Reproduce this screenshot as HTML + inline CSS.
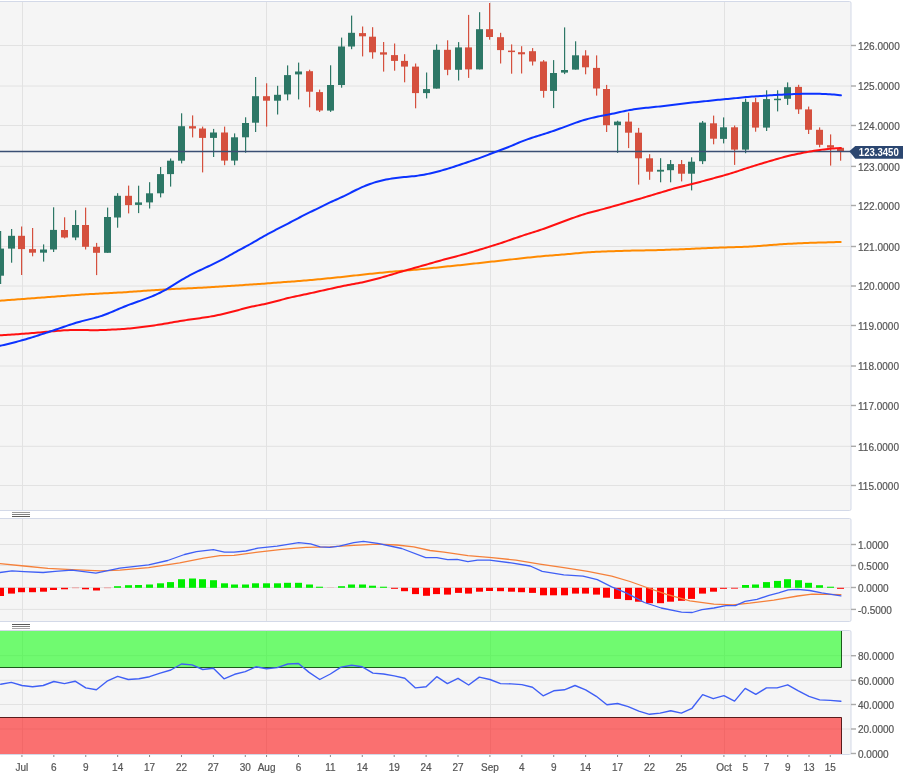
<!DOCTYPE html><html><head><meta charset="utf-8"><style>html,body{margin:0;padding:0;background:#fff;}svg{display:block;}text{font-family:"Liberation Sans",sans-serif;}svg{will-change:transform;}</style></head><body>
<svg width="918" height="782" viewBox="0 0 918 782">
<rect x="0" y="0" width="918" height="782" fill="#fff"/>
<rect x="-2" y="1.5" width="853" height="509.0" rx="1.5" fill="#f5f5f5" stroke="#d3d9e8" stroke-width="1"/>
<rect x="-2" y="518.5" width="853" height="103.0" rx="1.5" fill="#f5f5f5" stroke="#d3d9e8" stroke-width="1"/>
<rect x="-2" y="630.5" width="853" height="124.0" rx="1.5" fill="#f5f5f5" stroke="#d3d9e8" stroke-width="1"/>
<line x1="0" y1="45.5" x2="851" y2="45.5" stroke="#e2e2e2" stroke-width="1"/>
<line x1="0" y1="86" x2="851" y2="86" stroke="#e2e2e2" stroke-width="1"/>
<line x1="0" y1="125.5" x2="851" y2="125.5" stroke="#e2e2e2" stroke-width="1"/>
<line x1="0" y1="166.4" x2="851" y2="166.4" stroke="#e2e2e2" stroke-width="1"/>
<line x1="0" y1="205.5" x2="851" y2="205.5" stroke="#e2e2e2" stroke-width="1"/>
<line x1="0" y1="246.5" x2="851" y2="246.5" stroke="#e2e2e2" stroke-width="1"/>
<line x1="0" y1="286" x2="851" y2="286" stroke="#e2e2e2" stroke-width="1"/>
<line x1="0" y1="325.5" x2="851" y2="325.5" stroke="#e2e2e2" stroke-width="1"/>
<line x1="0" y1="366" x2="851" y2="366" stroke="#e2e2e2" stroke-width="1"/>
<line x1="0" y1="405.5" x2="851" y2="405.5" stroke="#e2e2e2" stroke-width="1"/>
<line x1="0" y1="446.3" x2="851" y2="446.3" stroke="#e2e2e2" stroke-width="1"/>
<line x1="0" y1="485.5" x2="851" y2="485.5" stroke="#e2e2e2" stroke-width="1"/>
<line x1="22.5" y1="2" x2="22.5" y2="510" stroke="#e2e2e2" stroke-width="1"/>
<line x1="22.5" y1="519" x2="22.5" y2="621" stroke="#e2e2e2" stroke-width="1"/>
<line x1="22.5" y1="630.5" x2="22.5" y2="754" stroke="#e2e2e2" stroke-width="1"/>
<line x1="266.5" y1="2" x2="266.5" y2="510" stroke="#e2e2e2" stroke-width="1"/>
<line x1="266.5" y1="519" x2="266.5" y2="621" stroke="#e2e2e2" stroke-width="1"/>
<line x1="266.5" y1="630.5" x2="266.5" y2="754" stroke="#e2e2e2" stroke-width="1"/>
<line x1="490.5" y1="2" x2="490.5" y2="510" stroke="#e2e2e2" stroke-width="1"/>
<line x1="490.5" y1="519" x2="490.5" y2="621" stroke="#e2e2e2" stroke-width="1"/>
<line x1="490.5" y1="630.5" x2="490.5" y2="754" stroke="#e2e2e2" stroke-width="1"/>
<line x1="724.5" y1="2" x2="724.5" y2="510" stroke="#e2e2e2" stroke-width="1"/>
<line x1="724.5" y1="519" x2="724.5" y2="621" stroke="#e2e2e2" stroke-width="1"/>
<line x1="724.5" y1="630.5" x2="724.5" y2="754" stroke="#e2e2e2" stroke-width="1"/>
<line x1="0" y1="544.5" x2="851" y2="544.5" stroke="#e2e2e2" stroke-width="1"/>
<line x1="0" y1="565.5" x2="851" y2="565.5" stroke="#e2e2e2" stroke-width="1"/>
<line x1="0" y1="587.5" x2="851" y2="587.5" stroke="#e2e2e2" stroke-width="1"/>
<line x1="0" y1="609.4" x2="851" y2="609.4" stroke="#e2e2e2" stroke-width="1"/>
<line x1="0" y1="655.7" x2="851" y2="655.7" stroke="#e2e2e2" stroke-width="1"/>
<line x1="0" y1="680.3" x2="851" y2="680.3" stroke="#e2e2e2" stroke-width="1"/>
<line x1="0" y1="704.5" x2="851" y2="704.5" stroke="#e2e2e2" stroke-width="1"/>
<line x1="0" y1="729" x2="851" y2="729" stroke="#e2e2e2" stroke-width="1"/>
<line x1="12" y1="512.5" x2="30" y2="512.5" stroke="#999" stroke-width="1"/>
<line x1="12" y1="514.5" x2="30" y2="514.5" stroke="#808080" stroke-width="1"/>
<line x1="12" y1="516.5" x2="30" y2="516.5" stroke="#5a5a5a" stroke-width="1"/>
<line x1="12" y1="624.5" x2="30" y2="624.5" stroke="#5a5a5a" stroke-width="1"/>
<line x1="12" y1="626.5" x2="30" y2="626.5" stroke="#808080" stroke-width="1"/>
<line x1="12" y1="628.5" x2="30" y2="628.5" stroke="#aaa" stroke-width="1"/>
<rect x="0" y="231" width="1.2" height="53" fill="#2d7766"/>
<rect x="-3" y="248.6" width="7" height="27.1" fill="#2d7766"/>
<rect x="11" y="229" width="1.2" height="33.7" fill="#2d7766"/>
<rect x="8" y="235.8" width="7" height="12.8" fill="#2d7766"/>
<rect x="21" y="226.5" width="1.2" height="48.5" fill="#d5503e"/>
<rect x="18" y="235.8" width="7" height="13.3" fill="#d5503e"/>
<rect x="32" y="228" width="1.2" height="28.3" fill="#d5503e"/>
<rect x="29" y="249.1" width="7" height="3.6" fill="#d5503e"/>
<rect x="43" y="244.4" width="1.2" height="17.2" fill="#2d7766"/>
<rect x="40" y="249.5" width="7" height="3.2" fill="#2d7766"/>
<rect x="53" y="207.3" width="1.2" height="44.7" fill="#2d7766"/>
<rect x="50" y="229.9" width="7" height="19.6" fill="#2d7766"/>
<rect x="64" y="217.3" width="1.2" height="21.1" fill="#d5503e"/>
<rect x="61" y="230" width="7" height="7.5" fill="#d5503e"/>
<rect x="75" y="210.2" width="1.2" height="30" fill="#2d7766"/>
<rect x="72" y="225" width="7" height="12.5" fill="#2d7766"/>
<rect x="85" y="207.6" width="1.2" height="41.9" fill="#d5503e"/>
<rect x="82" y="225" width="7" height="21.8" fill="#d5503e"/>
<rect x="96" y="242.9" width="1.2" height="32.2" fill="#d5503e"/>
<rect x="93" y="246.8" width="7" height="6" fill="#d5503e"/>
<rect x="107" y="207.6" width="1.2" height="45.2" fill="#2d7766"/>
<rect x="104" y="217" width="7" height="35.8" fill="#2d7766"/>
<rect x="117" y="193.2" width="1.2" height="34.5" fill="#2d7766"/>
<rect x="114" y="195.8" width="7" height="21.7" fill="#2d7766"/>
<rect x="128" y="185.6" width="1.2" height="27.8" fill="#d5503e"/>
<rect x="125" y="195.8" width="7" height="9.3" fill="#d5503e"/>
<rect x="138" y="185.7" width="1.2" height="27.4" fill="#2d7766"/>
<rect x="135" y="202.4" width="7" height="2.5" fill="#2d7766"/>
<rect x="149" y="182.2" width="1.2" height="26.3" fill="#2d7766"/>
<rect x="146" y="193.3" width="7" height="9.1" fill="#2d7766"/>
<rect x="160" y="167" width="1.2" height="30.4" fill="#2d7766"/>
<rect x="157" y="174.1" width="7" height="19.2" fill="#2d7766"/>
<rect x="170" y="158.5" width="1.2" height="28.1" fill="#2d7766"/>
<rect x="167" y="160.7" width="7" height="13.4" fill="#2d7766"/>
<rect x="181" y="113.3" width="1.2" height="50.1" fill="#2d7766"/>
<rect x="178" y="126.2" width="7" height="34.5" fill="#2d7766"/>
<rect x="192" y="115.4" width="1.2" height="22" fill="#d5503e"/>
<rect x="189" y="126.2" width="7" height="2.3" fill="#d5503e"/>
<rect x="202" y="126.6" width="1.2" height="45.8" fill="#d5503e"/>
<rect x="199" y="128.5" width="7" height="9.4" fill="#d5503e"/>
<rect x="213" y="128.9" width="1.2" height="28.1" fill="#2d7766"/>
<rect x="210" y="132.5" width="7" height="5.4" fill="#2d7766"/>
<rect x="224" y="126.6" width="1.2" height="38.6" fill="#d5503e"/>
<rect x="221" y="132.5" width="7" height="28.1" fill="#d5503e"/>
<rect x="234" y="133.4" width="1.2" height="31.8" fill="#2d7766"/>
<rect x="231" y="137.3" width="7" height="23.3" fill="#2d7766"/>
<rect x="245" y="117.3" width="1.2" height="35.4" fill="#2d7766"/>
<rect x="242" y="123" width="7" height="14.3" fill="#2d7766"/>
<rect x="255" y="77" width="1.2" height="55" fill="#2d7766"/>
<rect x="252" y="96.2" width="7" height="26.5" fill="#2d7766"/>
<rect x="266" y="83.3" width="1.2" height="43.3" fill="#d5503e"/>
<rect x="263" y="96.2" width="7" height="4.5" fill="#d5503e"/>
<rect x="277" y="85.8" width="1.2" height="28.7" fill="#2d7766"/>
<rect x="274" y="94.8" width="7" height="5.9" fill="#2d7766"/>
<rect x="287" y="65.4" width="1.2" height="34.9" fill="#2d7766"/>
<rect x="284" y="75.1" width="7" height="19.3" fill="#2d7766"/>
<rect x="298" y="62.6" width="1.2" height="36.8" fill="#2d7766"/>
<rect x="295" y="71.5" width="7" height="2.9" fill="#2d7766"/>
<rect x="309" y="69.7" width="1.2" height="37.6" fill="#d5503e"/>
<rect x="306" y="71.2" width="7" height="20.5" fill="#d5503e"/>
<rect x="319" y="89.6" width="1.2" height="22.4" fill="#d5503e"/>
<rect x="316" y="92.1" width="7" height="18.4" fill="#d5503e"/>
<rect x="330" y="65.3" width="1.2" height="46.6" fill="#2d7766"/>
<rect x="327" y="85" width="7" height="25.6" fill="#2d7766"/>
<rect x="341" y="37.6" width="1.2" height="50.1" fill="#2d7766"/>
<rect x="338" y="46.5" width="7" height="38.5" fill="#2d7766"/>
<rect x="351" y="15.6" width="1.2" height="33.6" fill="#2d7766"/>
<rect x="348" y="32.8" width="7" height="13.7" fill="#2d7766"/>
<rect x="362" y="26.5" width="1.2" height="29.9" fill="#d5503e"/>
<rect x="359" y="33.1" width="7" height="3.2" fill="#d5503e"/>
<rect x="372" y="27.2" width="1.2" height="31.5" fill="#d5503e"/>
<rect x="369" y="36.7" width="7" height="15.6" fill="#d5503e"/>
<rect x="383" y="42" width="1.2" height="29.6" fill="#d5503e"/>
<rect x="380" y="52.3" width="7" height="2.3" fill="#d5503e"/>
<rect x="394" y="43.5" width="1.2" height="27.2" fill="#d5503e"/>
<rect x="391" y="55.1" width="7" height="5.8" fill="#d5503e"/>
<rect x="404" y="54.2" width="1.2" height="28.1" fill="#d5503e"/>
<rect x="401" y="60.9" width="7" height="5.7" fill="#d5503e"/>
<rect x="415" y="63.5" width="1.2" height="44.8" fill="#d5503e"/>
<rect x="412" y="66.6" width="7" height="26.5" fill="#d5503e"/>
<rect x="426" y="72.5" width="1.2" height="25.9" fill="#2d7766"/>
<rect x="423" y="89.1" width="7" height="4" fill="#2d7766"/>
<rect x="436" y="44.4" width="1.2" height="44.2" fill="#2d7766"/>
<rect x="433" y="49.8" width="7" height="38.8" fill="#2d7766"/>
<rect x="447" y="40.3" width="1.2" height="34.9" fill="#d5503e"/>
<rect x="444" y="49.8" width="7" height="20" fill="#d5503e"/>
<rect x="458" y="42.1" width="1.2" height="38.4" fill="#2d7766"/>
<rect x="455" y="47.4" width="7" height="22.4" fill="#2d7766"/>
<rect x="468" y="14.9" width="1.2" height="63" fill="#d5503e"/>
<rect x="465" y="47.4" width="7" height="22" fill="#d5503e"/>
<rect x="479" y="12.2" width="1.2" height="57.2" fill="#2d7766"/>
<rect x="476" y="29.2" width="7" height="40.2" fill="#2d7766"/>
<rect x="489" y="3" width="1.2" height="36.7" fill="#d5503e"/>
<rect x="486" y="29.2" width="7" height="7.8" fill="#d5503e"/>
<rect x="500" y="32.8" width="1.2" height="30.7" fill="#d5503e"/>
<rect x="497" y="37.2" width="7" height="12.9" fill="#d5503e"/>
<rect x="511" y="44.4" width="1.2" height="29.3" fill="#d5503e"/>
<rect x="508" y="50.6" width="7" height="1.5" fill="#d5503e"/>
<rect x="521" y="46.2" width="1.2" height="27.3" fill="#d5503e"/>
<rect x="518" y="52.2" width="7" height="2.1" fill="#d5503e"/>
<rect x="532" y="48.1" width="1.2" height="17.4" fill="#d5503e"/>
<rect x="529" y="51.2" width="7" height="10.3" fill="#d5503e"/>
<rect x="543" y="60.1" width="1.2" height="37.6" fill="#d5503e"/>
<rect x="540" y="61.5" width="7" height="29.4" fill="#d5503e"/>
<rect x="553" y="60.1" width="1.2" height="48" fill="#2d7766"/>
<rect x="550" y="73" width="7" height="17.9" fill="#2d7766"/>
<rect x="564" y="27.4" width="1.2" height="46.7" fill="#2d7766"/>
<rect x="561" y="70" width="7" height="2.6" fill="#2d7766"/>
<rect x="575" y="41.3" width="1.2" height="28.3" fill="#2d7766"/>
<rect x="572" y="55.3" width="7" height="14.3" fill="#2d7766"/>
<rect x="585" y="50.2" width="1.2" height="24.1" fill="#d5503e"/>
<rect x="582" y="55.5" width="7" height="11.8" fill="#d5503e"/>
<rect x="596" y="55.4" width="1.2" height="40.2" fill="#d5503e"/>
<rect x="593" y="67.9" width="7" height="20.6" fill="#d5503e"/>
<rect x="606" y="84.9" width="1.2" height="47.1" fill="#d5503e"/>
<rect x="603" y="89" width="7" height="36.2" fill="#d5503e"/>
<rect x="617" y="120.7" width="1.2" height="32.2" fill="#2d7766"/>
<rect x="614" y="121.6" width="7" height="3.6" fill="#2d7766"/>
<rect x="628" y="112.6" width="1.2" height="35.5" fill="#d5503e"/>
<rect x="625" y="121.6" width="7" height="11.1" fill="#d5503e"/>
<rect x="638" y="127.9" width="1.2" height="56.7" fill="#d5503e"/>
<rect x="635" y="132.7" width="7" height="25.6" fill="#d5503e"/>
<rect x="649" y="154.2" width="1.2" height="25.6" fill="#d5503e"/>
<rect x="646" y="158.3" width="7" height="13.4" fill="#d5503e"/>
<rect x="660" y="158.2" width="1.2" height="24.1" fill="#2d7766"/>
<rect x="657" y="169.8" width="7" height="1.8" fill="#2d7766"/>
<rect x="670" y="160" width="1.2" height="22.3" fill="#2d7766"/>
<rect x="667" y="164.1" width="7" height="6.1" fill="#2d7766"/>
<rect x="681" y="160" width="1.2" height="21.4" fill="#d5503e"/>
<rect x="678" y="164.1" width="7" height="9.6" fill="#d5503e"/>
<rect x="691" y="157.3" width="1.2" height="33.1" fill="#2d7766"/>
<rect x="688" y="161.7" width="7" height="12" fill="#2d7766"/>
<rect x="702" y="121" width="1.2" height="43.1" fill="#2d7766"/>
<rect x="699" y="122.6" width="7" height="38.6" fill="#2d7766"/>
<rect x="713" y="115.6" width="1.2" height="28.7" fill="#d5503e"/>
<rect x="710" y="123.3" width="7" height="15.4" fill="#d5503e"/>
<rect x="723" y="117.4" width="1.2" height="26" fill="#2d7766"/>
<rect x="720" y="127.3" width="7" height="11.6" fill="#2d7766"/>
<rect x="734" y="125.5" width="1.2" height="39.4" fill="#d5503e"/>
<rect x="731" y="127.3" width="7" height="22.3" fill="#d5503e"/>
<rect x="745" y="98.6" width="1.2" height="54.6" fill="#2d7766"/>
<rect x="742" y="101.9" width="7" height="47.7" fill="#2d7766"/>
<rect x="755" y="97.7" width="1.2" height="34" fill="#d5503e"/>
<rect x="752" y="102.2" width="7" height="25.4" fill="#d5503e"/>
<rect x="766" y="90.3" width="1.2" height="40.7" fill="#2d7766"/>
<rect x="763" y="99.1" width="7" height="28.5" fill="#2d7766"/>
<rect x="777" y="90.3" width="1.2" height="21.1" fill="#2d7766"/>
<rect x="774" y="98.7" width="7" height="1.5" fill="#2d7766"/>
<rect x="787" y="82.4" width="1.2" height="22.5" fill="#2d7766"/>
<rect x="784" y="87.2" width="7" height="11.6" fill="#2d7766"/>
<rect x="798" y="84.8" width="1.2" height="29.1" fill="#d5503e"/>
<rect x="795" y="86.9" width="7" height="22.5" fill="#d5503e"/>
<rect x="808" y="106.6" width="1.2" height="27.4" fill="#d5503e"/>
<rect x="805" y="109.4" width="7" height="20.4" fill="#d5503e"/>
<rect x="819" y="127.4" width="1.2" height="19.9" fill="#d5503e"/>
<rect x="816" y="129.8" width="7" height="15" fill="#d5503e"/>
<rect x="830" y="134.4" width="1.2" height="31.2" fill="#d5503e"/>
<rect x="827" y="145.2" width="7" height="2.4" fill="#d5503e"/>
<rect x="840" y="147.1" width="1.2" height="13.6" fill="#d5503e"/>
<rect x="837" y="147.8" width="7" height="3.3" fill="#d5503e"/>
<line x1="0" y1="151.5" x2="851" y2="151.5" stroke="#3a4f74" stroke-width="1.3"/>
<polyline points="0.0,300.70 2.0,300.55 4.0,300.41 6.0,300.26 8.0,300.11 10.0,299.97 12.0,299.82 14.0,299.67 16.0,299.52 18.0,299.37 20.0,299.22 22.0,299.07 24.0,298.92 26.0,298.77 28.0,298.61 30.0,298.46 32.0,298.30 34.0,298.15 36.0,297.99 38.0,297.84 40.0,297.69 42.0,297.53 44.0,297.38 46.0,297.23 48.0,297.08 50.0,296.93 52.0,296.78 54.0,296.64 56.0,296.49 58.0,296.34 60.0,296.20 62.0,296.05 64.0,295.90 66.0,295.76 68.0,295.61 70.0,295.46 72.0,295.31 74.0,295.17 76.0,295.02 78.0,294.88 80.0,294.73 82.0,294.59 84.0,294.46 86.0,294.33 88.0,294.21 90.0,294.10 92.0,293.99 94.0,293.89 96.0,293.78 98.0,293.68 100.0,293.58 102.0,293.48 104.0,293.37 106.0,293.27 108.0,293.16 110.0,293.05 112.0,292.94 114.0,292.83 116.0,292.72 118.0,292.61 120.0,292.50 122.0,292.38 124.0,292.25 126.0,292.13 128.0,292.00 130.0,291.86 132.0,291.72 134.0,291.57 136.0,291.43 138.0,291.28 140.0,291.13 142.0,290.99 144.0,290.84 146.0,290.70 148.0,290.55 150.0,290.42 152.0,290.28 154.0,290.15 156.0,290.03 158.0,289.91 160.0,289.79 162.0,289.67 164.0,289.55 166.0,289.43 168.0,289.31 170.0,289.20 172.0,289.09 174.0,288.98 176.0,288.87 178.0,288.77 180.0,288.68 182.0,288.58 184.0,288.49 186.0,288.40 188.0,288.32 190.0,288.23 192.0,288.14 194.0,288.05 196.0,287.96 198.0,287.86 200.0,287.76 202.0,287.66 204.0,287.55 206.0,287.44 208.0,287.33 210.0,287.21 212.0,287.10 214.0,286.98 216.0,286.86 218.0,286.74 220.0,286.62 222.0,286.50 224.0,286.37 226.0,286.25 228.0,286.12 230.0,285.98 232.0,285.84 234.0,285.71 236.0,285.57 238.0,285.43 240.0,285.29 242.0,285.15 244.0,285.01 246.0,284.87 248.0,284.73 250.0,284.59 252.0,284.46 254.0,284.32 256.0,284.19 258.0,284.05 260.0,283.92 262.0,283.78 264.0,283.63 266.0,283.49 268.0,283.33 270.0,283.18 272.0,283.02 274.0,282.86 276.0,282.70 278.0,282.54 280.0,282.39 282.0,282.25 284.0,282.10 286.0,281.96 288.0,281.82 290.0,281.68 292.0,281.54 294.0,281.40 296.0,281.25 298.0,281.10 300.0,280.95 302.0,280.78 304.0,280.61 306.0,280.44 308.0,280.26 310.0,280.08 312.0,279.90 314.0,279.71 316.0,279.53 318.0,279.34 320.0,279.15 322.0,278.96 324.0,278.76 326.0,278.57 328.0,278.37 330.0,278.17 332.0,277.97 334.0,277.77 336.0,277.56 338.0,277.36 340.0,277.15 342.0,276.94 344.0,276.72 346.0,276.51 348.0,276.28 350.0,276.06 352.0,275.83 354.0,275.61 356.0,275.38 358.0,275.15 360.0,274.93 362.0,274.70 364.0,274.48 366.0,274.27 368.0,274.05 370.0,273.84 372.0,273.64 374.0,273.43 376.0,273.23 378.0,273.03 380.0,272.83 382.0,272.63 384.0,272.43 386.0,272.24 388.0,272.06 390.0,271.87 392.0,271.69 394.0,271.52 396.0,271.35 398.0,271.18 400.0,271.01 402.0,270.84 404.0,270.67 406.0,270.51 408.0,270.34 410.0,270.17 412.0,270.01 414.0,269.84 416.0,269.66 418.0,269.49 420.0,269.31 422.0,269.12 424.0,268.92 426.0,268.71 428.0,268.51 430.0,268.29 432.0,268.07 434.0,267.86 436.0,267.64 438.0,267.42 440.0,267.21 442.0,266.99 444.0,266.78 446.0,266.57 448.0,266.36 450.0,266.16 452.0,265.95 454.0,265.75 456.0,265.55 458.0,265.34 460.0,265.14 462.0,264.93 464.0,264.72 466.0,264.50 468.0,264.28 470.0,264.06 472.0,263.83 474.0,263.61 476.0,263.38 478.0,263.15 480.0,262.92 482.0,262.70 484.0,262.47 486.0,262.25 488.0,262.04 490.0,261.82 492.0,261.61 494.0,261.40 496.0,261.19 498.0,260.98 500.0,260.76 502.0,260.53 504.0,260.31 506.0,260.08 508.0,259.84 510.0,259.61 512.0,259.37 514.0,259.13 516.0,258.90 518.0,258.67 520.0,258.44 522.0,258.22 524.0,258.00 526.0,257.79 528.0,257.58 530.0,257.38 532.0,257.17 534.0,256.97 536.0,256.78 538.0,256.58 540.0,256.39 542.0,256.21 544.0,256.03 546.0,255.86 548.0,255.70 550.0,255.54 552.0,255.39 554.0,255.24 556.0,255.09 558.0,254.93 560.0,254.78 562.0,254.62 564.0,254.45 566.0,254.28 568.0,254.10 570.0,253.91 572.0,253.72 574.0,253.52 576.0,253.33 578.0,253.13 580.0,252.94 582.0,252.75 584.0,252.58 586.0,252.42 588.0,252.27 590.0,252.13 592.0,252.01 594.0,251.91 596.0,251.81 598.0,251.72 600.0,251.63 602.0,251.55 604.0,251.48 606.0,251.41 608.0,251.34 610.0,251.27 612.0,251.20 614.0,251.14 616.0,251.07 618.0,251.01 620.0,250.94 622.0,250.88 624.0,250.82 626.0,250.77 628.0,250.72 630.0,250.67 632.0,250.62 634.0,250.58 636.0,250.54 638.0,250.50 640.0,250.47 642.0,250.43 644.0,250.39 646.0,250.35 648.0,250.31 650.0,250.27 652.0,250.23 654.0,250.18 656.0,250.13 658.0,250.07 660.0,250.01 662.0,249.95 664.0,249.88 666.0,249.82 668.0,249.75 670.0,249.69 672.0,249.62 674.0,249.55 676.0,249.48 678.0,249.41 680.0,249.33 682.0,249.25 684.0,249.17 686.0,249.08 688.0,248.99 690.0,248.90 692.0,248.81 694.0,248.71 696.0,248.62 698.0,248.52 700.0,248.43 702.0,248.33 704.0,248.24 706.0,248.15 708.0,248.06 710.0,247.98 712.0,247.90 714.0,247.82 716.0,247.74 718.0,247.67 720.0,247.59 722.0,247.52 724.0,247.45 726.0,247.39 728.0,247.32 730.0,247.26 732.0,247.20 734.0,247.14 736.0,247.08 738.0,247.02 740.0,246.96 742.0,246.89 744.0,246.83 746.0,246.76 748.0,246.68 750.0,246.59 752.0,246.48 754.0,246.36 756.0,246.23 758.0,246.08 760.0,245.93 762.0,245.77 764.0,245.60 766.0,245.44 768.0,245.27 770.0,245.10 772.0,244.94 774.0,244.78 776.0,244.63 778.0,244.48 780.0,244.34 782.0,244.22 784.0,244.09 786.0,243.98 788.0,243.87 790.0,243.76 792.0,243.66 794.0,243.55 796.0,243.45 798.0,243.35 800.0,243.25 802.0,243.16 804.0,243.07 806.0,242.99 808.0,242.91 810.0,242.84 812.0,242.78 814.0,242.71 816.0,242.66 818.0,242.60 820.0,242.55 822.0,242.50 824.0,242.44 826.0,242.39 828.0,242.34 830.0,242.28 832.0,242.23 834.0,242.18 836.0,242.12 838.0,242.07 840.0,242.02 840.7,242.00" fill="none" stroke="#ff8a00" stroke-width="2" stroke-linejoin="round" stroke-linecap="round"/>
<polyline points="0.0,335.30 2.0,335.17 4.0,335.04 6.0,334.91 8.0,334.79 10.0,334.66 12.0,334.53 14.0,334.40 16.0,334.26 18.0,334.13 20.0,333.99 22.0,333.84 24.0,333.69 26.0,333.54 28.0,333.38 30.0,333.22 32.0,333.06 34.0,332.89 36.0,332.72 38.0,332.56 40.0,332.39 42.0,332.22 44.0,332.04 46.0,331.87 48.0,331.69 50.0,331.51 52.0,331.33 54.0,331.15 56.0,330.97 58.0,330.80 60.0,330.64 62.0,330.50 64.0,330.37 66.0,330.26 68.0,330.17 70.0,330.11 72.0,330.06 74.0,330.02 76.0,330.00 78.0,330.00 80.0,330.00 82.0,330.02 84.0,330.04 86.0,330.08 88.0,330.11 90.0,330.15 92.0,330.17 94.0,330.18 96.0,330.17 98.0,330.14 100.0,330.10 102.0,330.04 104.0,329.96 106.0,329.88 108.0,329.78 110.0,329.69 112.0,329.59 114.0,329.49 116.0,329.38 118.0,329.27 120.0,329.16 122.0,329.03 124.0,328.90 126.0,328.75 128.0,328.58 130.0,328.41 132.0,328.21 134.0,328.01 136.0,327.79 138.0,327.56 140.0,327.32 142.0,327.08 144.0,326.82 146.0,326.55 148.0,326.28 150.0,326.01 152.0,325.72 154.0,325.43 156.0,325.13 158.0,324.82 160.0,324.50 162.0,324.17 164.0,323.83 166.0,323.49 168.0,323.14 170.0,322.79 172.0,322.44 174.0,322.09 176.0,321.75 178.0,321.41 180.0,321.08 182.0,320.75 184.0,320.43 186.0,320.12 188.0,319.81 190.0,319.52 192.0,319.24 194.0,318.96 196.0,318.69 198.0,318.42 200.0,318.14 202.0,317.86 204.0,317.57 206.0,317.27 208.0,316.96 210.0,316.63 212.0,316.28 214.0,315.91 216.0,315.51 218.0,315.10 220.0,314.68 222.0,314.23 224.0,313.77 226.0,313.29 228.0,312.80 230.0,312.29 232.0,311.77 234.0,311.25 236.0,310.71 238.0,310.17 240.0,309.63 242.0,309.09 244.0,308.55 246.0,308.03 248.0,307.52 250.0,307.04 252.0,306.59 254.0,306.16 256.0,305.75 258.0,305.37 260.0,304.98 262.0,304.59 264.0,304.19 266.0,303.76 268.0,303.31 270.0,302.83 272.0,302.32 274.0,301.80 276.0,301.27 278.0,300.72 280.0,300.17 282.0,299.63 284.0,299.10 286.0,298.58 288.0,298.08 290.0,297.60 292.0,297.14 294.0,296.70 296.0,296.27 298.0,295.86 300.0,295.44 302.0,295.02 304.0,294.59 306.0,294.16 308.0,293.73 310.0,293.29 312.0,292.86 314.0,292.42 316.0,291.97 318.0,291.53 320.0,291.09 322.0,290.64 324.0,290.20 326.0,289.75 328.0,289.30 330.0,288.86 332.0,288.41 334.0,287.96 336.0,287.52 338.0,287.08 340.0,286.66 342.0,286.24 344.0,285.83 346.0,285.43 348.0,285.05 350.0,284.67 352.0,284.30 354.0,283.94 356.0,283.57 358.0,283.20 360.0,282.81 362.0,282.41 364.0,281.99 366.0,281.54 368.0,281.07 370.0,280.58 372.0,280.07 374.0,279.54 376.0,279.01 378.0,278.46 380.0,277.92 382.0,277.36 384.0,276.80 386.0,276.23 388.0,275.65 390.0,275.06 392.0,274.46 394.0,273.86 396.0,273.26 398.0,272.66 400.0,272.07 402.0,271.49 404.0,270.91 406.0,270.34 408.0,269.77 410.0,269.20 412.0,268.64 414.0,268.08 416.0,267.52 418.0,266.95 420.0,266.39 422.0,265.82 424.0,265.25 426.0,264.68 428.0,264.10 430.0,263.53 432.0,262.95 434.0,262.38 436.0,261.81 438.0,261.24 440.0,260.67 442.0,260.12 444.0,259.57 446.0,259.03 448.0,258.50 450.0,257.97 452.0,257.45 454.0,256.93 456.0,256.41 458.0,255.89 460.0,255.36 462.0,254.82 464.0,254.28 466.0,253.72 468.0,253.15 470.0,252.57 472.0,251.97 474.0,251.38 476.0,250.77 478.0,250.17 480.0,249.56 482.0,248.95 484.0,248.34 486.0,247.74 488.0,247.13 490.0,246.52 492.0,245.91 494.0,245.29 496.0,244.66 498.0,244.03 500.0,243.38 502.0,242.72 504.0,242.04 506.0,241.36 508.0,240.66 510.0,239.96 512.0,239.26 514.0,238.57 516.0,237.87 518.0,237.18 520.0,236.50 522.0,235.83 524.0,235.17 526.0,234.52 528.0,233.88 530.0,233.25 532.0,232.62 534.0,231.99 536.0,231.35 538.0,230.71 540.0,230.05 542.0,229.38 544.0,228.69 546.0,227.97 548.0,227.25 550.0,226.50 552.0,225.75 554.0,224.99 556.0,224.22 558.0,223.46 560.0,222.70 562.0,221.95 564.0,221.20 566.0,220.46 568.0,219.74 570.0,219.02 572.0,218.30 574.0,217.60 576.0,216.90 578.0,216.21 580.0,215.53 582.0,214.86 584.0,214.22 586.0,213.61 588.0,213.02 590.0,212.46 592.0,211.93 594.0,211.42 596.0,210.91 598.0,210.41 600.0,209.90 602.0,209.39 604.0,208.86 606.0,208.32 608.0,207.77 610.0,207.22 612.0,206.65 614.0,206.08 616.0,205.50 618.0,204.92 620.0,204.34 622.0,203.75 624.0,203.18 626.0,202.60 628.0,202.04 630.0,201.48 632.0,200.93 634.0,200.37 636.0,199.82 638.0,199.25 640.0,198.68 642.0,198.10 644.0,197.51 646.0,196.91 648.0,196.31 650.0,195.71 652.0,195.11 654.0,194.51 656.0,193.91 658.0,193.31 660.0,192.71 662.0,192.11 664.0,191.51 666.0,190.92 668.0,190.32 670.0,189.73 672.0,189.15 674.0,188.58 676.0,188.02 678.0,187.47 680.0,186.95 682.0,186.44 684.0,185.95 686.0,185.46 688.0,184.97 690.0,184.48 692.0,183.99 694.0,183.48 696.0,182.97 698.0,182.45 700.0,181.92 702.0,181.38 704.0,180.85 706.0,180.31 708.0,179.77 710.0,179.22 712.0,178.68 714.0,178.13 716.0,177.58 718.0,177.03 720.0,176.48 722.0,175.92 724.0,175.36 726.0,174.79 728.0,174.21 730.0,173.62 732.0,173.02 734.0,172.39 736.0,171.75 738.0,171.09 740.0,170.42 742.0,169.74 744.0,169.06 746.0,168.39 748.0,167.74 750.0,167.09 752.0,166.46 754.0,165.84 756.0,165.23 758.0,164.63 760.0,164.03 762.0,163.43 764.0,162.83 766.0,162.23 768.0,161.62 770.0,161.03 772.0,160.43 774.0,159.84 776.0,159.26 778.0,158.69 780.0,158.14 782.0,157.59 784.0,157.06 786.0,156.54 788.0,156.04 790.0,155.56 792.0,155.09 794.0,154.65 796.0,154.22 798.0,153.81 800.0,153.41 802.0,153.01 804.0,152.63 806.0,152.25 808.0,151.87 810.0,151.51 812.0,151.15 814.0,150.81 816.0,150.48 818.0,150.17 820.0,149.89 822.0,149.63 824.0,149.39 826.0,149.17 828.0,148.97 830.0,148.79 832.0,148.61 834.0,148.46 836.0,148.31 838.0,148.18 840.0,148.05 840.9,148.00" fill="none" stroke="#ff1010" stroke-width="2" stroke-linejoin="round" stroke-linecap="round"/>
<polyline points="0.0,345.90 2.0,345.40 4.0,344.91 6.0,344.41 8.0,343.92 10.0,343.42 12.0,342.92 14.0,342.42 16.0,341.91 18.0,341.39 20.0,340.86 22.0,340.31 24.0,339.75 26.0,339.17 28.0,338.58 30.0,337.97 32.0,337.35 34.0,336.72 36.0,336.08 38.0,335.44 40.0,334.79 42.0,334.14 44.0,333.49 46.0,332.84 48.0,332.18 50.0,331.53 52.0,330.87 54.0,330.20 56.0,329.53 58.0,328.85 60.0,328.17 62.0,327.48 64.0,326.79 66.0,326.10 68.0,325.41 70.0,324.74 72.0,324.08 74.0,323.44 76.0,322.83 78.0,322.24 80.0,321.68 82.0,321.14 84.0,320.62 86.0,320.12 88.0,319.62 90.0,319.13 92.0,318.63 94.0,318.12 96.0,317.58 98.0,317.01 100.0,316.39 102.0,315.73 104.0,315.02 106.0,314.26 108.0,313.48 110.0,312.67 112.0,311.84 114.0,311.00 116.0,310.14 118.0,309.29 120.0,308.43 122.0,307.59 124.0,306.77 126.0,305.96 128.0,305.18 130.0,304.43 132.0,303.69 134.0,302.97 136.0,302.25 138.0,301.54 140.0,300.83 142.0,300.12 144.0,299.40 146.0,298.67 148.0,297.91 150.0,297.14 152.0,296.34 154.0,295.50 156.0,294.62 158.0,293.71 160.0,292.74 162.0,291.73 164.0,290.65 166.0,289.52 168.0,288.34 170.0,287.13 172.0,285.88 174.0,284.63 176.0,283.38 178.0,282.14 180.0,280.92 182.0,279.73 184.0,278.55 186.0,277.41 188.0,276.30 190.0,275.22 192.0,274.17 194.0,273.16 196.0,272.17 198.0,271.20 200.0,270.25 202.0,269.30 204.0,268.36 206.0,267.43 208.0,266.49 210.0,265.54 212.0,264.59 214.0,263.62 216.0,262.64 218.0,261.65 220.0,260.63 222.0,259.59 224.0,258.53 226.0,257.44 228.0,256.33 230.0,255.20 232.0,254.06 234.0,252.92 236.0,251.79 238.0,250.69 240.0,249.61 242.0,248.54 244.0,247.49 246.0,246.43 248.0,245.36 250.0,244.25 252.0,243.12 254.0,241.96 256.0,240.79 258.0,239.61 260.0,238.44 262.0,237.29 264.0,236.16 266.0,235.05 268.0,233.96 270.0,232.89 272.0,231.82 274.0,230.77 276.0,229.72 278.0,228.68 280.0,227.64 282.0,226.61 284.0,225.59 286.0,224.56 288.0,223.54 290.0,222.50 292.0,221.46 294.0,220.41 296.0,219.36 298.0,218.30 300.0,217.25 302.0,216.21 304.0,215.18 306.0,214.17 308.0,213.17 310.0,212.20 312.0,211.23 314.0,210.27 316.0,209.31 318.0,208.34 320.0,207.35 322.0,206.36 324.0,205.36 326.0,204.37 328.0,203.40 330.0,202.45 332.0,201.53 334.0,200.63 336.0,199.74 338.0,198.85 340.0,197.93 342.0,197.00 344.0,196.03 346.0,195.04 348.0,194.03 350.0,193.02 352.0,192.00 354.0,190.99 356.0,190.00 358.0,189.03 360.0,188.10 362.0,187.21 364.0,186.36 366.0,185.55 368.0,184.78 370.0,184.04 372.0,183.33 374.0,182.67 376.0,182.04 378.0,181.46 380.0,180.93 382.0,180.45 384.0,180.01 386.0,179.60 388.0,179.22 390.0,178.87 392.0,178.54 394.0,178.24 396.0,177.97 398.0,177.72 400.0,177.50 402.0,177.30 404.0,177.11 406.0,176.93 408.0,176.75 410.0,176.56 412.0,176.36 414.0,176.14 416.0,175.89 418.0,175.63 420.0,175.33 422.0,175.01 424.0,174.66 426.0,174.29 428.0,173.88 430.0,173.44 432.0,172.97 434.0,172.49 436.0,171.98 438.0,171.47 440.0,170.94 442.0,170.39 444.0,169.83 446.0,169.25 448.0,168.65 450.0,168.03 452.0,167.39 454.0,166.74 456.0,166.07 458.0,165.40 460.0,164.73 462.0,164.05 464.0,163.38 466.0,162.70 468.0,162.02 470.0,161.34 472.0,160.66 474.0,159.98 476.0,159.28 478.0,158.58 480.0,157.85 482.0,157.11 484.0,156.36 486.0,155.59 488.0,154.82 490.0,154.05 492.0,153.29 494.0,152.53 496.0,151.79 498.0,151.05 500.0,150.31 502.0,149.56 504.0,148.79 506.0,148.02 508.0,147.22 510.0,146.40 512.0,145.57 514.0,144.72 516.0,143.87 518.0,143.03 520.0,142.20 522.0,141.40 524.0,140.63 526.0,139.89 528.0,139.18 530.0,138.49 532.0,137.82 534.0,137.17 536.0,136.53 538.0,135.90 540.0,135.27 542.0,134.64 544.0,134.01 546.0,133.36 548.0,132.71 550.0,132.05 552.0,131.37 554.0,130.68 556.0,129.98 558.0,129.27 560.0,128.55 562.0,127.82 564.0,127.08 566.0,126.33 568.0,125.59 570.0,124.84 572.0,124.10 574.0,123.37 576.0,122.66 578.0,121.96 580.0,121.29 582.0,120.65 584.0,120.04 586.0,119.45 588.0,118.90 590.0,118.38 592.0,117.88 594.0,117.41 596.0,116.97 598.0,116.54 600.0,116.13 602.0,115.74 604.0,115.36 606.0,114.99 608.0,114.61 610.0,114.23 612.0,113.83 614.0,113.41 616.0,112.97 618.0,112.52 620.0,112.06 622.0,111.61 624.0,111.17 626.0,110.76 628.0,110.37 630.0,110.00 632.0,109.67 634.0,109.35 636.0,109.06 638.0,108.79 640.0,108.53 642.0,108.29 644.0,108.06 646.0,107.85 648.0,107.64 650.0,107.43 652.0,107.23 654.0,107.03 656.0,106.83 658.0,106.62 660.0,106.41 662.0,106.19 664.0,105.96 666.0,105.72 668.0,105.46 670.0,105.20 672.0,104.93 674.0,104.67 676.0,104.40 678.0,104.14 680.0,103.89 682.0,103.66 684.0,103.43 686.0,103.20 688.0,102.99 690.0,102.78 692.0,102.57 694.0,102.36 696.0,102.16 698.0,101.95 700.0,101.75 702.0,101.54 704.0,101.34 706.0,101.13 708.0,100.91 710.0,100.70 712.0,100.49 714.0,100.27 716.0,100.06 718.0,99.86 720.0,99.66 722.0,99.47 724.0,99.28 726.0,99.10 728.0,98.91 730.0,98.73 732.0,98.54 734.0,98.34 736.0,98.13 738.0,97.91 740.0,97.70 742.0,97.48 744.0,97.27 746.0,97.07 748.0,96.88 750.0,96.71 752.0,96.55 754.0,96.41 756.0,96.28 758.0,96.15 760.0,96.02 762.0,95.90 764.0,95.77 766.0,95.64 768.0,95.51 770.0,95.37 772.0,95.24 774.0,95.11 776.0,94.99 778.0,94.87 780.0,94.76 782.0,94.65 784.0,94.55 786.0,94.45 788.0,94.36 790.0,94.27 792.0,94.18 794.0,94.11 796.0,94.03 798.0,93.96 800.0,93.90 802.0,93.85 804.0,93.80 806.0,93.77 808.0,93.75 810.0,93.73 812.0,93.73 814.0,93.74 816.0,93.76 818.0,93.79 820.0,93.84 822.0,93.91 824.0,93.98 826.0,94.08 828.0,94.19 830.0,94.32 832.0,94.46 834.0,94.62 836.0,94.80 838.0,94.99 840.0,95.19 840.9,95.30" fill="none" stroke="#0b32ff" stroke-width="2" stroke-linejoin="round" stroke-linecap="round"/>
<rect x="-3" y="587.8" width="7" height="8.2" fill="#ff0000"/>
<rect x="8" y="587.8" width="7" height="5.8" fill="#ff0000"/>
<rect x="18" y="587.8" width="7" height="4.4" fill="#ff0000"/>
<rect x="29" y="587.8" width="7" height="4.4" fill="#ff0000"/>
<rect x="40" y="587.8" width="7" height="3.9" fill="#ff0000"/>
<rect x="50" y="587.8" width="7" height="2.2" fill="#ff0000"/>
<rect x="61" y="587.8" width="7" height="1.5" fill="#ff0000"/>
<rect x="72" y="587.8" width="7" height="0.3" fill="#ff0000"/>
<rect x="82" y="587.8" width="7" height="1.5" fill="#ff0000"/>
<rect x="93" y="587.8" width="7" height="2.7" fill="#ff0000"/>
<rect x="104" y="587.8" width="7" height="0.3" fill="#ff0000"/>
<rect x="114" y="586.2" width="7" height="1.6" fill="#00ee00"/>
<rect x="125" y="585.2" width="7" height="2.6" fill="#00ee00"/>
<rect x="135" y="585" width="7" height="2.8" fill="#00ee00"/>
<rect x="146" y="584.5" width="7" height="3.3" fill="#00ee00"/>
<rect x="157" y="583.3" width="7" height="4.5" fill="#00ee00"/>
<rect x="167" y="582.1" width="7" height="5.7" fill="#00ee00"/>
<rect x="178" y="579.2" width="7" height="8.6" fill="#00ee00"/>
<rect x="189" y="578.5" width="7" height="9.3" fill="#00ee00"/>
<rect x="199" y="579.2" width="7" height="8.6" fill="#00ee00"/>
<rect x="210" y="580.2" width="7" height="7.6" fill="#00ee00"/>
<rect x="221" y="583.3" width="7" height="4.5" fill="#00ee00"/>
<rect x="231" y="584.5" width="7" height="3.3" fill="#00ee00"/>
<rect x="242" y="584.5" width="7" height="3.3" fill="#00ee00"/>
<rect x="252" y="583.3" width="7" height="4.5" fill="#00ee00"/>
<rect x="263" y="583.3" width="7" height="4.5" fill="#00ee00"/>
<rect x="274" y="583.3" width="7" height="4.5" fill="#00ee00"/>
<rect x="284" y="582.8" width="7" height="5" fill="#00ee00"/>
<rect x="295" y="582.8" width="7" height="5" fill="#00ee00"/>
<rect x="306" y="584.5" width="7" height="3.3" fill="#00ee00"/>
<rect x="316" y="586.7" width="7" height="1.1" fill="#00ee00"/>
<rect x="327" y="587.7" width="7" height="0.1" fill="#ff0000"/>
<rect x="338" y="586.2" width="7" height="1.6" fill="#00ee00"/>
<rect x="348" y="584.5" width="7" height="3.3" fill="#00ee00"/>
<rect x="359" y="584.5" width="7" height="3.3" fill="#00ee00"/>
<rect x="369" y="585.7" width="7" height="2.1" fill="#00ee00"/>
<rect x="380" y="586.7" width="7" height="1.1" fill="#00ee00"/>
<rect x="391" y="587.8" width="7" height="1" fill="#ff0000"/>
<rect x="401" y="587.8" width="7" height="3.4" fill="#ff0000"/>
<rect x="412" y="587.8" width="7" height="6.3" fill="#ff0000"/>
<rect x="423" y="587.8" width="7" height="8" fill="#ff0000"/>
<rect x="433" y="587.8" width="7" height="6.3" fill="#ff0000"/>
<rect x="444" y="587.8" width="7" height="6.8" fill="#ff0000"/>
<rect x="455" y="587.8" width="7" height="5.1" fill="#ff0000"/>
<rect x="465" y="587.8" width="7" height="5.8" fill="#ff0000"/>
<rect x="476" y="587.8" width="7" height="3.9" fill="#ff0000"/>
<rect x="486" y="587.8" width="7" height="3.2" fill="#ff0000"/>
<rect x="497" y="587.8" width="7" height="3.4" fill="#ff0000"/>
<rect x="508" y="587.8" width="7" height="3.9" fill="#ff0000"/>
<rect x="518" y="587.8" width="7" height="4.4" fill="#ff0000"/>
<rect x="529" y="587.8" width="7" height="5.1" fill="#ff0000"/>
<rect x="540" y="587.8" width="7" height="7.5" fill="#ff0000"/>
<rect x="550" y="587.8" width="7" height="7.5" fill="#ff0000"/>
<rect x="561" y="587.8" width="7" height="7.5" fill="#ff0000"/>
<rect x="572" y="587.8" width="7" height="5.8" fill="#ff0000"/>
<rect x="582" y="587.8" width="7" height="5.8" fill="#ff0000"/>
<rect x="593" y="587.8" width="7" height="6.8" fill="#ff0000"/>
<rect x="603" y="587.8" width="7" height="9.9" fill="#ff0000"/>
<rect x="614" y="587.8" width="7" height="11.1" fill="#ff0000"/>
<rect x="625" y="587.8" width="7" height="12.3" fill="#ff0000"/>
<rect x="635" y="587.8" width="7" height="13.9" fill="#ff0000"/>
<rect x="646" y="587.8" width="7" height="15.4" fill="#ff0000"/>
<rect x="657" y="587.8" width="7" height="15.4" fill="#ff0000"/>
<rect x="667" y="587.8" width="7" height="13.9" fill="#ff0000"/>
<rect x="678" y="587.8" width="7" height="13" fill="#ff0000"/>
<rect x="688" y="587.8" width="7" height="11.1" fill="#ff0000"/>
<rect x="699" y="587.8" width="7" height="5.8" fill="#ff0000"/>
<rect x="710" y="587.8" width="7" height="3.9" fill="#ff0000"/>
<rect x="720" y="587.8" width="7" height="1" fill="#ff0000"/>
<rect x="731" y="587.8" width="7" height="0.8" fill="#ff0000"/>
<rect x="742" y="585" width="7" height="2.8" fill="#00ee00"/>
<rect x="752" y="584.5" width="7" height="3.3" fill="#00ee00"/>
<rect x="763" y="582.1" width="7" height="5.7" fill="#00ee00"/>
<rect x="774" y="580.9" width="7" height="6.9" fill="#00ee00"/>
<rect x="784" y="579.2" width="7" height="8.6" fill="#00ee00"/>
<rect x="795" y="580.2" width="7" height="7.6" fill="#00ee00"/>
<rect x="805" y="582.8" width="7" height="5" fill="#00ee00"/>
<rect x="816" y="585.2" width="7" height="2.6" fill="#00ee00"/>
<rect x="827" y="586.7" width="7" height="1.1" fill="#00ee00"/>
<rect x="837" y="587.8" width="7" height="1" fill="#ff0000"/>
<polyline points="0,563.6 24,566 47.9,568.4 71.9,569.6 100.6,570.8 119.8,570.1 148.6,567.7 179.7,562.9 203.7,558.1 220,555.7 234,555.3 257.9,552.1 281.9,549.3 305.9,547.4 329.8,546.9 353.8,545.4 377.7,544.2 396.9,545 413.7,546.9 430,550.5 444,552.1 467.9,555.7 491.9,557.7 515.9,560.1 539.8,564.1 563.8,567.7 587.7,571.3 611.7,576.1 630,581.5 646.8,587.5 665.9,594.1 689.9,600.8 713.9,604.1 733,604.9 749.8,603.2 773.8,600.1 797.7,596 812.1,594.1 840.9,594.6" fill="none" stroke="#f5803a" stroke-width="1.3" stroke-linejoin="round" stroke-linecap="round"/>
<polyline points="0,572.5 12,570.8 24,571.6 43.1,572.5 55.1,571.3 71.9,570.1 95.9,573.2 119.8,568.2 148.6,564.8 167.7,560.5 184.5,554.5 196.5,551.7 213.3,549.7 224.4,552.1 234,552.1 245.9,551 257.9,548.1 277.1,546.2 298.7,542.6 310.6,543.8 320.2,546.9 329.8,547.4 339.4,546.2 353.8,542.6 363.4,541.4 377.7,543.3 401.7,548.5 425.7,557.7 436.8,557.7 447.6,559.6 457.1,559.3 467.9,561.7 477.5,560.1 489.5,560.1 511.1,562.9 530.2,566 542.2,571.3 563.8,574.9 583,576.1 597.3,579.7 611.7,586.9 626.1,592.9 640,600.1 644.4,602.5 661.2,608 681.5,612.1 692.3,612.5 701.9,609.7 713.9,608 725.9,605.6 735.4,605.6 745,601.3 757,599.4 769,595.3 778.6,592.9 788.2,589.8 797.7,589.3 809.7,590.5 821.7,592.9 840.9,595.8" fill="none" stroke="#3f5ff5" stroke-width="1.3" stroke-linejoin="round" stroke-linecap="round"/>
<rect x="0" y="631" width="841.5" height="36.5" fill="rgba(0,255,0,0.54)"/>
<path d="M0,667.5 H841.5 V631" fill="none" stroke="#1b5a1b" stroke-width="1"/>
<rect x="0" y="717" width="841.5" height="37" fill="rgba(255,0,0,0.54)"/>
<path d="M0,717.5 H841.5 V754" fill="none" stroke="#5a1b1b" stroke-width="1"/>
<polyline points="0.66,684.3 11.3,682.4 21.93,685.5 32.57,686.7 43.2,685.5 53.84,681.5 64.48,683.6 75.11,681.2 85.75,687.9 96.38,689.8 107.02,681.2 117.66,676.4 128.29,679.5 138.93,678.8 149.56,676.7 160.2,673.1 170.84,670 181.47,664 192.11,664.9 202.74,669.5 213.38,668.3 224.02,678.8 234.65,674.3 245.29,671.6 255.92,666.8 266.56,668.8 277.2,667.6 287.83,664 298.47,663.5 309.1,672.4 319.74,679.5 330.38,674 341.01,667.1 351.65,665.2 362.28,666.8 372.92,673.1 383.56,674 394.19,675.9 404.83,678.3 415.46,687.9 426.1,686.7 436.74,676.7 447.37,683.6 458.01,678.3 468.64,685 479.28,677.1 489.92,679.5 500.55,683.6 511.19,683.9 521.82,684.6 532.46,687.2 543.1,695.8 553.73,690.8 564.37,689.8 575,685.5 585.64,689.8 596.28,696.3 606.91,704.7 617.55,703.5 628.18,706.6 638.82,711.2 649.46,714.3 660.09,713.1 670.73,710.7 681.36,713.1 692,708.3 702.64,694.6 713.27,698.7 723.91,695.6 734.54,701.1 745.18,688.4 755.82,694.4 766.45,687.9 777.09,687.9 787.72,684.8 798.36,690.8 809,696.3 819.63,699.9 830.27,700.4 840.9,701.3" fill="none" stroke="#3f5ff5" stroke-width="1.4" stroke-linejoin="round" stroke-linecap="round"/>
<line x1="851" y1="45.5" x2="856" y2="45.5" stroke="#aaa" stroke-width="1.4"/>
<text x="858" y="49.7" font-size="10" fill="#555" stroke="#555" stroke-width="0.2">126.0000</text>
<line x1="851" y1="86" x2="856" y2="86" stroke="#aaa" stroke-width="1.4"/>
<text x="858" y="90.2" font-size="10" fill="#555" stroke="#555" stroke-width="0.2">125.0000</text>
<line x1="851" y1="125.5" x2="856" y2="125.5" stroke="#aaa" stroke-width="1.4"/>
<text x="858" y="129.7" font-size="10" fill="#555" stroke="#555" stroke-width="0.2">124.0000</text>
<line x1="851" y1="166.4" x2="856" y2="166.4" stroke="#aaa" stroke-width="1.4"/>
<text x="858" y="170.6" font-size="10" fill="#555" stroke="#555" stroke-width="0.2">123.0000</text>
<line x1="851" y1="205.5" x2="856" y2="205.5" stroke="#aaa" stroke-width="1.4"/>
<text x="858" y="209.7" font-size="10" fill="#555" stroke="#555" stroke-width="0.2">122.0000</text>
<line x1="851" y1="246.5" x2="856" y2="246.5" stroke="#aaa" stroke-width="1.4"/>
<text x="858" y="250.7" font-size="10" fill="#555" stroke="#555" stroke-width="0.2">121.0000</text>
<line x1="851" y1="286" x2="856" y2="286" stroke="#aaa" stroke-width="1.4"/>
<text x="858" y="290.2" font-size="10" fill="#555" stroke="#555" stroke-width="0.2">120.0000</text>
<line x1="851" y1="325.5" x2="856" y2="325.5" stroke="#aaa" stroke-width="1.4"/>
<text x="858" y="329.7" font-size="10" fill="#555" stroke="#555" stroke-width="0.2">119.0000</text>
<line x1="851" y1="366" x2="856" y2="366" stroke="#aaa" stroke-width="1.4"/>
<text x="858" y="370.2" font-size="10" fill="#555" stroke="#555" stroke-width="0.2">118.0000</text>
<line x1="851" y1="405.5" x2="856" y2="405.5" stroke="#aaa" stroke-width="1.4"/>
<text x="858" y="409.7" font-size="10" fill="#555" stroke="#555" stroke-width="0.2">117.0000</text>
<line x1="851" y1="446.3" x2="856" y2="446.3" stroke="#aaa" stroke-width="1.4"/>
<text x="858" y="450.5" font-size="10" fill="#555" stroke="#555" stroke-width="0.2">116.0000</text>
<line x1="851" y1="485.5" x2="856" y2="485.5" stroke="#aaa" stroke-width="1.4"/>
<text x="858" y="489.7" font-size="10" fill="#555" stroke="#555" stroke-width="0.2">115.0000</text>
<line x1="851" y1="544.5" x2="856" y2="544.5" stroke="#aaa" stroke-width="1.4"/>
<text x="858" y="548.7" font-size="10" fill="#555" stroke="#555" stroke-width="0.2">1.0000</text>
<line x1="851" y1="565.5" x2="856" y2="565.5" stroke="#aaa" stroke-width="1.4"/>
<text x="858" y="569.7" font-size="10" fill="#555" stroke="#555" stroke-width="0.2">0.5000</text>
<line x1="851" y1="587.5" x2="856" y2="587.5" stroke="#aaa" stroke-width="1.4"/>
<text x="858" y="591.7" font-size="10" fill="#555" stroke="#555" stroke-width="0.2">0.0000</text>
<line x1="851" y1="609.4" x2="856" y2="609.4" stroke="#aaa" stroke-width="1.4"/>
<text x="858" y="613.6" font-size="10" fill="#555" stroke="#555" stroke-width="0.2">-0.5000</text>
<line x1="851" y1="655.7" x2="856" y2="655.7" stroke="#aaa" stroke-width="1.4"/>
<text x="858" y="659.9" font-size="10" fill="#555" stroke="#555" stroke-width="0.2">80.0000</text>
<line x1="851" y1="680.3" x2="856" y2="680.3" stroke="#aaa" stroke-width="1.4"/>
<text x="858" y="684.5" font-size="10" fill="#555" stroke="#555" stroke-width="0.2">60.0000</text>
<line x1="851" y1="704.5" x2="856" y2="704.5" stroke="#aaa" stroke-width="1.4"/>
<text x="858" y="708.7" font-size="10" fill="#555" stroke="#555" stroke-width="0.2">40.0000</text>
<line x1="851" y1="729" x2="856" y2="729" stroke="#aaa" stroke-width="1.4"/>
<text x="858" y="733.2" font-size="10" fill="#555" stroke="#555" stroke-width="0.2">20.0000</text>
<line x1="851" y1="753.5" x2="856" y2="753.5" stroke="#aaa" stroke-width="1.4"/>
<text x="858" y="757.7" font-size="10" fill="#555" stroke="#555" stroke-width="0.2">0.0000</text>
<path d="M849.3,151.3 L855.3,146 L903,146 L903,158.7 L855.3,158.7 Z" fill="#2b4670"/>
<text x="858.8" y="156" font-size="10" font-weight="bold" fill="#fff" textLength="40" lengthAdjust="spacingAndGlyphs">123.3450</text>
<line x1="21.93" y1="755" x2="21.93" y2="757" stroke="#888" stroke-width="1"/>
<text x="21.93" y="771" font-size="10" fill="#555" stroke="#555" stroke-width="0.2" text-anchor="middle">Jul</text>
<line x1="53.84" y1="755" x2="53.84" y2="757" stroke="#888" stroke-width="1"/>
<text x="53.84" y="771" font-size="10" fill="#555" stroke="#555" stroke-width="0.2" text-anchor="middle">6</text>
<line x1="85.75" y1="755" x2="85.75" y2="757" stroke="#888" stroke-width="1"/>
<text x="85.75" y="771" font-size="10" fill="#555" stroke="#555" stroke-width="0.2" text-anchor="middle">9</text>
<line x1="117.66" y1="755" x2="117.66" y2="757" stroke="#888" stroke-width="1"/>
<text x="117.66" y="771" font-size="10" fill="#555" stroke="#555" stroke-width="0.2" text-anchor="middle">14</text>
<line x1="149.56" y1="755" x2="149.56" y2="757" stroke="#888" stroke-width="1"/>
<text x="149.56" y="771" font-size="10" fill="#555" stroke="#555" stroke-width="0.2" text-anchor="middle">17</text>
<line x1="181.47" y1="755" x2="181.47" y2="757" stroke="#888" stroke-width="1"/>
<text x="181.47" y="771" font-size="10" fill="#555" stroke="#555" stroke-width="0.2" text-anchor="middle">22</text>
<line x1="213.38" y1="755" x2="213.38" y2="757" stroke="#888" stroke-width="1"/>
<text x="213.38" y="771" font-size="10" fill="#555" stroke="#555" stroke-width="0.2" text-anchor="middle">27</text>
<line x1="245.29" y1="755" x2="245.29" y2="757" stroke="#888" stroke-width="1"/>
<text x="245.29" y="771" font-size="10" fill="#555" stroke="#555" stroke-width="0.2" text-anchor="middle">30</text>
<line x1="266.56" y1="755" x2="266.56" y2="757" stroke="#888" stroke-width="1"/>
<text x="266.56" y="771" font-size="10" fill="#555" stroke="#555" stroke-width="0.2" text-anchor="middle">Aug</text>
<line x1="298.47" y1="755" x2="298.47" y2="757" stroke="#888" stroke-width="1"/>
<text x="298.47" y="771" font-size="10" fill="#555" stroke="#555" stroke-width="0.2" text-anchor="middle">6</text>
<line x1="330.38" y1="755" x2="330.38" y2="757" stroke="#888" stroke-width="1"/>
<text x="330.38" y="771" font-size="10" fill="#555" stroke="#555" stroke-width="0.2" text-anchor="middle">11</text>
<line x1="362.28" y1="755" x2="362.28" y2="757" stroke="#888" stroke-width="1"/>
<text x="362.28" y="771" font-size="10" fill="#555" stroke="#555" stroke-width="0.2" text-anchor="middle">14</text>
<line x1="394.19" y1="755" x2="394.19" y2="757" stroke="#888" stroke-width="1"/>
<text x="394.19" y="771" font-size="10" fill="#555" stroke="#555" stroke-width="0.2" text-anchor="middle">19</text>
<line x1="426.1" y1="755" x2="426.1" y2="757" stroke="#888" stroke-width="1"/>
<text x="426.1" y="771" font-size="10" fill="#555" stroke="#555" stroke-width="0.2" text-anchor="middle">24</text>
<line x1="458.01" y1="755" x2="458.01" y2="757" stroke="#888" stroke-width="1"/>
<text x="458.01" y="771" font-size="10" fill="#555" stroke="#555" stroke-width="0.2" text-anchor="middle">27</text>
<line x1="489.92" y1="755" x2="489.92" y2="757" stroke="#888" stroke-width="1"/>
<text x="489.92" y="771" font-size="10" fill="#555" stroke="#555" stroke-width="0.2" text-anchor="middle">Sep</text>
<line x1="521.82" y1="755" x2="521.82" y2="757" stroke="#888" stroke-width="1"/>
<text x="521.82" y="771" font-size="10" fill="#555" stroke="#555" stroke-width="0.2" text-anchor="middle">4</text>
<line x1="553.73" y1="755" x2="553.73" y2="757" stroke="#888" stroke-width="1"/>
<text x="553.73" y="771" font-size="10" fill="#555" stroke="#555" stroke-width="0.2" text-anchor="middle">9</text>
<line x1="585.64" y1="755" x2="585.64" y2="757" stroke="#888" stroke-width="1"/>
<text x="585.64" y="771" font-size="10" fill="#555" stroke="#555" stroke-width="0.2" text-anchor="middle">14</text>
<line x1="617.55" y1="755" x2="617.55" y2="757" stroke="#888" stroke-width="1"/>
<text x="617.55" y="771" font-size="10" fill="#555" stroke="#555" stroke-width="0.2" text-anchor="middle">17</text>
<line x1="649.46" y1="755" x2="649.46" y2="757" stroke="#888" stroke-width="1"/>
<text x="649.46" y="771" font-size="10" fill="#555" stroke="#555" stroke-width="0.2" text-anchor="middle">22</text>
<line x1="681.36" y1="755" x2="681.36" y2="757" stroke="#888" stroke-width="1"/>
<text x="681.36" y="771" font-size="10" fill="#555" stroke="#555" stroke-width="0.2" text-anchor="middle">25</text>
<line x1="723.91" y1="755" x2="723.91" y2="757" stroke="#888" stroke-width="1"/>
<text x="723.91" y="771" font-size="10" fill="#555" stroke="#555" stroke-width="0.2" text-anchor="middle">Oct</text>
<line x1="745.18" y1="755" x2="745.18" y2="757" stroke="#888" stroke-width="1"/>
<text x="745.18" y="771" font-size="10" fill="#555" stroke="#555" stroke-width="0.2" text-anchor="middle">5</text>
<line x1="766.45" y1="755" x2="766.45" y2="757" stroke="#888" stroke-width="1"/>
<text x="766.45" y="771" font-size="10" fill="#555" stroke="#555" stroke-width="0.2" text-anchor="middle">7</text>
<line x1="787.72" y1="755" x2="787.72" y2="757" stroke="#888" stroke-width="1"/>
<text x="787.72" y="771" font-size="10" fill="#555" stroke="#555" stroke-width="0.2" text-anchor="middle">9</text>
<line x1="809" y1="755" x2="809" y2="757" stroke="#888" stroke-width="1"/>
<text x="809" y="771" font-size="10" fill="#555" stroke="#555" stroke-width="0.2" text-anchor="middle">13</text>
<line x1="830.27" y1="755" x2="830.27" y2="757" stroke="#888" stroke-width="1"/>
<text x="830.27" y="771" font-size="10" fill="#555" stroke="#555" stroke-width="0.2" text-anchor="middle">15</text>
</svg></body></html>
